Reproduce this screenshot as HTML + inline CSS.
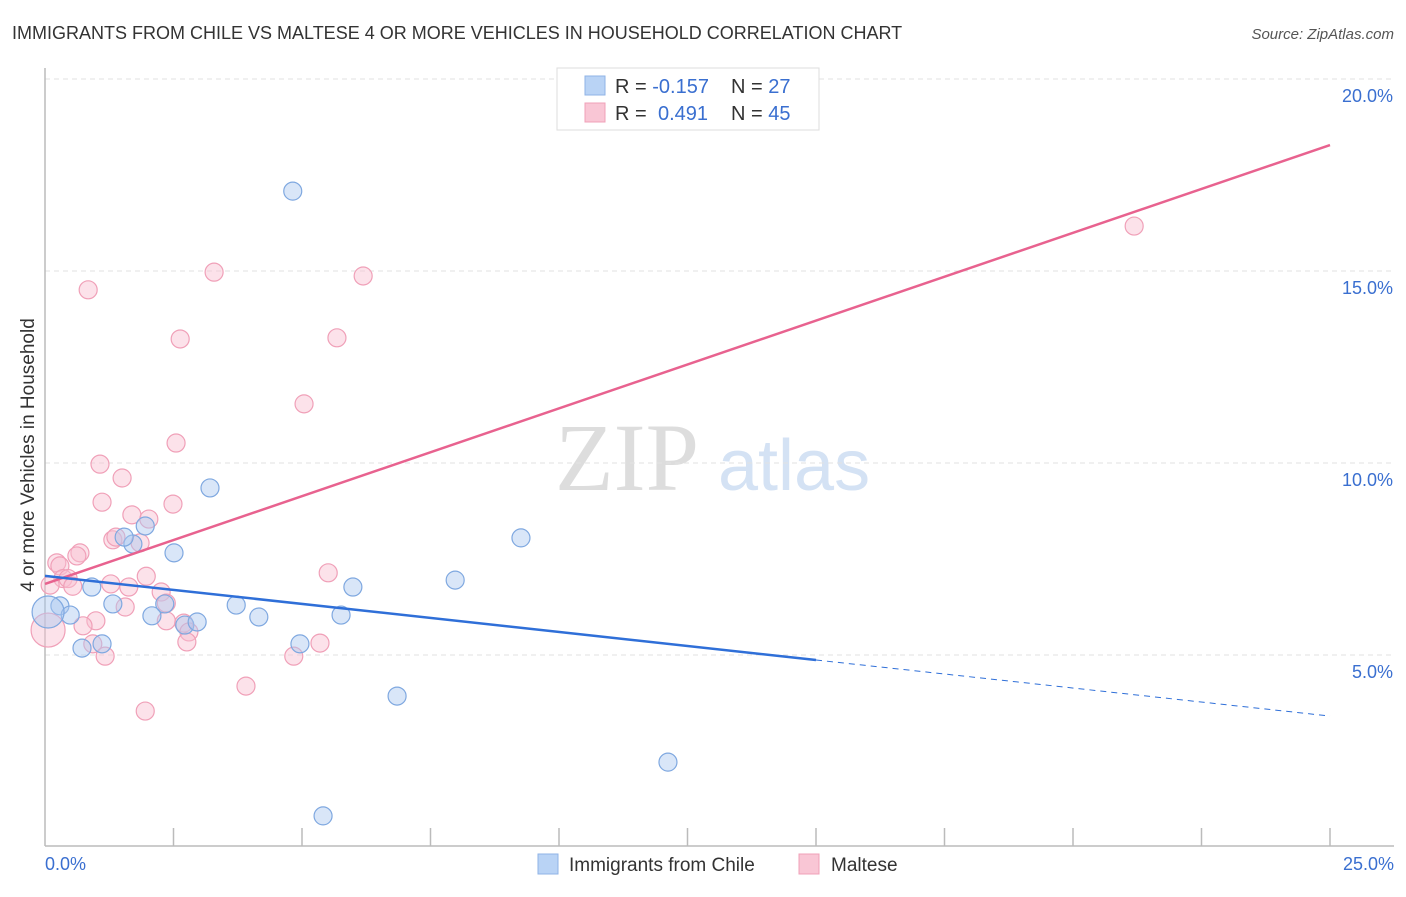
<!DOCTYPE html>
<html><head><meta charset="utf-8"><style>
body{margin:0;background:#fff;font-family:"Liberation Sans",sans-serif;}
</style></head><body>
<svg id="chart" width="1406" height="892" xmlns="http://www.w3.org/2000/svg" font-family="Liberation Sans, sans-serif">
<text x="12" y="39" font-size="18" fill="#333">IMMIGRANTS FROM CHILE VS MALTESE 4 OR MORE VEHICLES IN HOUSEHOLD CORRELATION CHART</text>
<text x="1394" y="39" font-size="15" fill="#555" font-style="italic" text-anchor="end">Source: ZipAtlas.com</text>
<text x="34" y="455" font-size="19" fill="#333" text-anchor="middle" transform="rotate(-90 34 455)">4 or more Vehicles in Household</text>
<text x="555" y="490" font-size="96" fill="#ddd" font-family="Liberation Serif, serif">ZIP</text>
<text x="718" y="490" font-size="72" fill="#d4e2f4">atlas</text>
<g id="grid"></g><g id="axes"></g><g id="pts"></g><g id="lines"></g>
<g>
<rect x="557" y="68" width="262" height="62" fill="#fff" stroke="#ddd"/>
<rect x="585" y="76" width="20" height="19" fill="#b9d3f5" stroke="#8fb3e6"/>
<rect x="585" y="103" width="20" height="19" fill="#f9c6d5" stroke="#f0a0b8"/>
<text x="615" y="93" font-size="20" fill="#333">R = <tspan fill="#3a6fd0">-0.157</tspan><tspan x="731">N = </tspan><tspan fill="#3a6fd0">27</tspan></text>
<text x="615" y="120" font-size="20" fill="#333">R = <tspan fill="#3a6fd0" x="658">0.491</tspan><tspan x="731">N = </tspan><tspan fill="#3a6fd0">45</tspan></text>
</g>
<g>
<rect x="538" y="854" width="20" height="20" fill="#b9d3f5" stroke="#8fb3e6"/>
<text x="569" y="871" font-size="19" fill="#333">Immigrants from Chile</text>
<rect x="799" y="854" width="20" height="20" fill="#f9c6d5" stroke="#f0a0b8"/>
<text x="831" y="871" font-size="19" fill="#333">Maltese</text>
</g>
</svg>
<script>
const yTicks=[5,10,15,20];
const yTickLabels=["5.0%","10.0%","15.0%","20.0%"];
const xTickCount=10;
const xLabels=["0.0%","25.0%"];
const chileX=[4.82,3.21,9.26,1.95,2.51,1.71,1.54,7.98,5.99,0.91,1.32,0.29,0.49,2.33,2.08,3.72,4.16,5.76,2.72,2.96,4.96,1.11,0.72,6.85,12.12,5.41,0.06];
const chileY=[17.08,9.35,8.05,8.36,7.66,7.89,8.07,6.95,6.77,6.77,6.33,6.28,6.04,6.33,6.02,6.3,5.99,6.04,5.78,5.86,5.29,5.29,5.18,3.93,2.21,0.81,6.12];
const maltX=[21.19,3.29,6.19,0.84,2.63,5.68,5.04,2.55,1.5,1.11,2.49,1.69,2.02,1.32,1.38,1.85,0.68,0.23,0.29,0.62,0.35,0.45,1.97,5.51,1.28,1.63,0.54,2.26,2.36,1.56,0.99,2.36,2.7,0.74,2.8,0.93,2.76,4.84,5.35,1.17,3.91,1.95,0.06,0.1,1.07];
const maltY=[16.17,14.97,14.87,14.51,13.23,13.26,11.54,10.52,9.61,8.98,8.93,8.65,8.54,8.0,8.07,7.92,7.66,7.4,7.32,7.58,6.99,6.99,7.05,7.14,6.85,6.77,6.79,6.64,6.35,6.25,5.89,5.89,5.83,5.76,5.6,5.29,5.34,4.97,5.31,4.97,4.19,3.54,5.65,6.82,9.97];
const chileTrend=[7.06,3.41];const maltTrend=[6.85,18.28];const chileSolidEnd=15;
const NS="http://www.w3.org/2000/svg";
const X=v=>45+v/25*1285, Y=v=>847-v*38.4;
function mk(t,a,p){const e=document.createElementNS(NS,t);for(const k in a)e.setAttribute(k,a[k]);p.appendChild(e);return e;}
const grid=document.getElementById('grid'),axes=document.getElementById('axes'),pts=document.getElementById('pts'),lines=document.getElementById('lines');
yTicks.forEach((t,i)=>{
 const l=mk('line',{x1:45,x2:1394,y1:Y(t),y2:Y(t),stroke:'#e2e2e2','stroke-dasharray':'5,4'},grid);
 
 
 const tx=mk('text',{x:1393,y:Y(t)+23,'font-size':18,fill:'#3a6fd0','text-anchor':'end'},axes);tx.textContent=yTickLabels[i];
 
 
});
const topLine=mk('line',{x1:45,x2:1394,y1:79,y2:79,stroke:'#e2e2e2','stroke-dasharray':'5,4'},grid);


const ya=mk('line',{x1:45,x2:45,y1:68,y2:846,stroke:'#bbb','stroke-width':1.5},axes);


const xa=mk('line',{x1:45,x2:1394,y1:846,y2:846,stroke:'#bbb','stroke-width':1.5},axes);


for(let i=1;i<=xTickCount;i++){const tk=mk('line',{x1:X(i*2.5),x2:X(i*2.5),y1:828,y2:846,stroke:'#bbb','stroke-width':1.5},axes);
 
 }
const xl0=mk('text',{x:45,y:870,'font-size':18,fill:'#3a6fd0'},axes);xl0.textContent=xLabels[0];


const xl1=mk('text',{x:1394,y:870,'font-size':18,fill:'#3a6fd0','text-anchor':'end'},axes);xl1.textContent=xLabels[1];


maltX.forEach((x,i)=>{const r=i==42?17:9;const c=mk('circle',{cx:X(x),cy:Y(maltY[i]),r:r,fill:'rgba(249,190,208,0.45)',stroke:'#f0a0b8','stroke-width':1.2},pts);
 
 });
chileX.forEach((x,i)=>{const r=i==26?16:9;const c=mk('circle',{cx:X(x),cy:Y(chileY[i]),r:r,fill:'rgba(170,200,240,0.45)',stroke:'#7fa8e0','stroke-width':1.2},pts);
 
 });
const cy=v=>chileTrend[0]+(chileTrend[1]-chileTrend[0])*v/25;
const l1=mk('line',{x1:X(0),y1:Y(maltTrend[0]),x2:X(25),y2:Y(maltTrend[1]),stroke:'#e8628f','stroke-width':2.5},lines);


const l2=mk('line',{x1:X(0),y1:Y(cy(0)),x2:X(chileSolidEnd),y2:Y(cy(chileSolidEnd)),stroke:'#2f6fd8','stroke-width':2.5},lines);


const l3=mk('line',{x1:X(chileSolidEnd),y1:Y(cy(chileSolidEnd)),x2:X(25),y2:Y(cy(25)),stroke:'#2f6fd8','stroke-width':1,'stroke-dasharray':'6,5'},lines);


</script>
</body></html>
